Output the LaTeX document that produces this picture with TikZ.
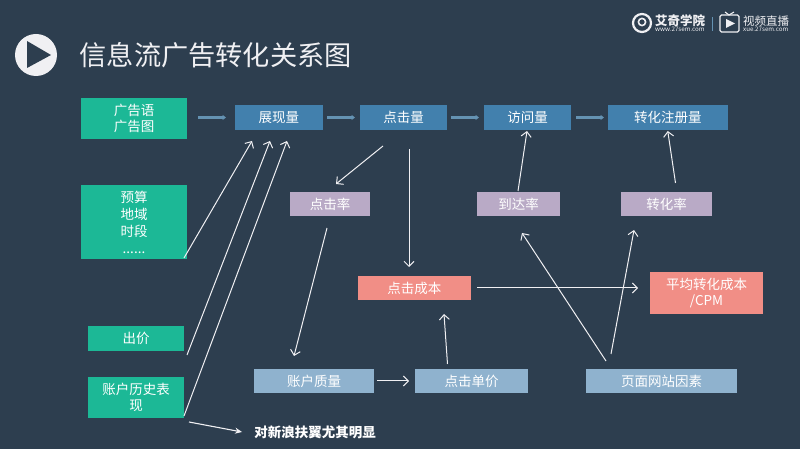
\documentclass[tikz,border=0pt]{standalone}
\usepackage{fontspec}
\setmainfont{Noto Sans CJK SC}
\usetikzlibrary{arrows.meta}
\definecolor{bgColor}{RGB}{45,62,79}
\definecolor{greenColor}{RGB}{28,184,150}
\definecolor{blueColor}{RGB}{66,128,173}
\definecolor{lilacColor}{RGB}{185,170,198}
\definecolor{salmonColor}{RGB}{241,142,134}
\definecolor{paleColor}{RGB}{143,178,206}
\definecolor{flowColor}{RGB}{100,146,178}
\definecolor{iconColor}{RGB}{240,240,243}
\tikzset{
  boxnode/.style={text=white,anchor=center,inner sep=0pt,outer sep=0pt,align=center,font=\fontsize{13.5}{16.5}\selectfont},
  greenbox/.style={boxnode,fill=greenColor},
  bluebox/.style={boxnode,fill=blueColor},
  lilacbox/.style={boxnode,fill=lilacColor},
  salmonbox/.style={boxnode,fill=salmonColor},
  palebox/.style={boxnode,fill=paleColor},
  flowline/.style={draw=flowColor,line width=2.6pt,-{Triangle[length=3.5pt,width=5pt]}},
  thinline/.style={draw=iconColor,line width=1pt,-{Straight Barb[length=5pt,width=10pt]}},
}
\begin{document}
\begin{tikzpicture}[x=1pt,y=1pt]
\path[use as bounding box,fill=bgColor] (0,0) rectangle (800,449);

% title
\path[fill=iconColor] (36,394) circle (21);
\path[fill=bgColor] (27,408) -- (51,394) -- (27,381) -- cycle;
\node[text=iconColor,anchor=west,inner sep=0pt,font=\fontsize{27.2}{30}\selectfont] (title) at (79.5,394) {信息流广告转化关系图};

% logo
\path[draw=iconColor,line width=2.2pt] (642,426) circle (9);
\path[draw=iconColor,line width=1.6pt] (642,427) circle (3.6);
\node[text=iconColor,anchor=west,inner sep=0pt,font=\bfseries\itshape\fontsize{12.5}{14}\selectfont] (logoname) at (655,428) {艾奇学院};
\node[text=iconColor,anchor=west,inner sep=0pt,font=\fontsize{6.2}{7}\selectfont] (logourl) at (655,419.5) {www.27sem.com};
\path[draw=flowColor,line width=0.5pt] (712,418) -- (712,432);
\path[draw=iconColor,line width=1.3pt,rounded corners=1.5pt] (720,417) rectangle (739,434);
\path[draw=iconColor,line width=1.1pt] (725,437) -- (729,434) -- (734,437);
\path[fill=iconColor] (726,421) -- (735,425.5) -- (726,430) -- cycle;
\node[text=iconColor,anchor=west,inner sep=0pt,font=\fontsize{11.5}{14}\selectfont] (livename) at (743,428) {视频直播};
\node[text=iconColor,anchor=west,inner sep=0pt,font=\fontsize{6.2}{7}\selectfont] (liveurl) at (743,419.5) {xue.27sem.com};

% top row
\node[greenbox,minimum width=106pt,minimum height=41pt] (ad) at (134,330.5) {广告语\\广告图};
\node[bluebox,minimum width=87.5pt,minimum height=25pt] (show) at (278.75,331.5) {展现量};
\node[bluebox,minimum width=87pt,minimum height=25pt] (click) at (403.5,331.5) {点击量};
\node[bluebox,minimum width=87pt,minimum height=25pt] (visit) at (527.5,331.5) {访问量};
\node[bluebox,minimum width=119.5pt,minimum height=25pt] (reg) at (667.75,331.5) {转化注册量};

% rates
\node[lilacbox,minimum width=80pt,minimum height=24pt] (ctr) at (330,245) {点击率};
\node[lilacbox,minimum width=83pt,minimum height=24pt] (arrive) at (518.5,245) {到达率};
\node[lilacbox,minimum width=91pt,minimum height=24pt] (conv) at (666.5,245) {转化率};

% left column
\node[greenbox,minimum width=106pt,minimum height=74pt,font=\fontsize{13.5}{17}\selectfont] (budget) at (134,227) {预算\\地域\\时段\\......};
\node[greenbox,minimum width=96pt,minimum height=25pt] (bid) at (136,110.5) {出价};
\node[greenbox,minimum width=96pt,minimum height=41pt] (history) at (136,51.5) {账户历史表\\现};
\node[text=white,anchor=center,inner sep=0pt,font=\bfseries\fontsize{13.5}{16}\selectfont] (note) at (315,17) {对新浪扶翼尤其明显};

% costs
\node[salmonbox,minimum width=112.5pt,minimum height=24pt] (cost) at (414.25,161) {点击成本};
\node[salmonbox,minimum width=113pt,minimum height=42pt] (cpm) at (706.5,156) {平均转化成本\\/CPM};

% bottom row
\node[palebox,minimum width=120pt,minimum height=24pt] (quality) at (314,68) {账户质量};
\node[palebox,minimum width=113pt,minimum height=24pt] (price) at (471.5,68) {点击单价};
\node[palebox,minimum width=151pt,minimum height=24pt] (page) at (661.5,68) {页面网站因素};

% flow arrows
\draw[flowline] ([shift={(11,1)}]ad.east) -- ([xshift=-9pt]show.west);
\draw[flowline] ([xshift=4.5pt]show.east) -- ([xshift=-5pt]click.west);
\draw[flowline] ([xshift=4pt]click.east) -- ([xshift=-5pt]visit.west);
\draw[flowline] ([xshift=5pt]visit.east) -- ([xshift=-4pt]reg.west);

% thin arrows
\draw[thinline] ([shift={(-3,1)}]budget.south east) -- ([shift={(17,-11)}]show.south west);
\draw[thinline] ([shift={(3,-4)}]bid.south east) -- ([shift={(-8.75,-11)}]show.south);
\draw[thinline] ([shift={(0,2)}]history.south east) -- ([shift={(8.25,-11)}]show.south);
\draw[thinline] ([shift={(-20.5,-16)}]click.south) -- ([shift={(6,8)}]ctr.north);
\draw[thinline] ([shift={(5.5,-19)}]click.south) -- ([shift={(-5.25,9)}]cost.north);
\draw[thinline] ([shift={(-3,-12)}]ctr.south) -- ([shift={(-20,13)}]quality.north);
\draw[thinline] ([xshift=3pt]quality.east) -- ([xshift=-6pt]price.west);
\draw[thinline] ([shift={(-24,5)}]price.north) -- ([shift={(29.75,-14)}]cost.south);
\draw[thinline] ([xshift=6.5pt]cost.east) -- ([shift={(-12,5)}]cpm.west);
\draw[thinline] ([shift={(-55.5,8)}]page.north) -- ([shift={(3.5,-17)}]arrive.south);
\draw[thinline] ([shift={(-50.5,15)}]page.north) -- ([shift={(-32.5,-14)}]conv.south);
\draw[thinline] ([shift={(-0.5,1)}]arrive.north) -- ([shift={(-0.5,-1)}]visit.south);
\draw[thinline] ([shift={(9,9)}]conv.north) -- ([yshift=-1pt]reg.south);
\draw[draw=iconColor,line width=1.1pt,-{Stealth[length=7pt,width=6pt]}] ([shift={(5,-4)}]history.south east) -- ([xshift=-12pt]note.west);
\end{tikzpicture}
\end{document}
